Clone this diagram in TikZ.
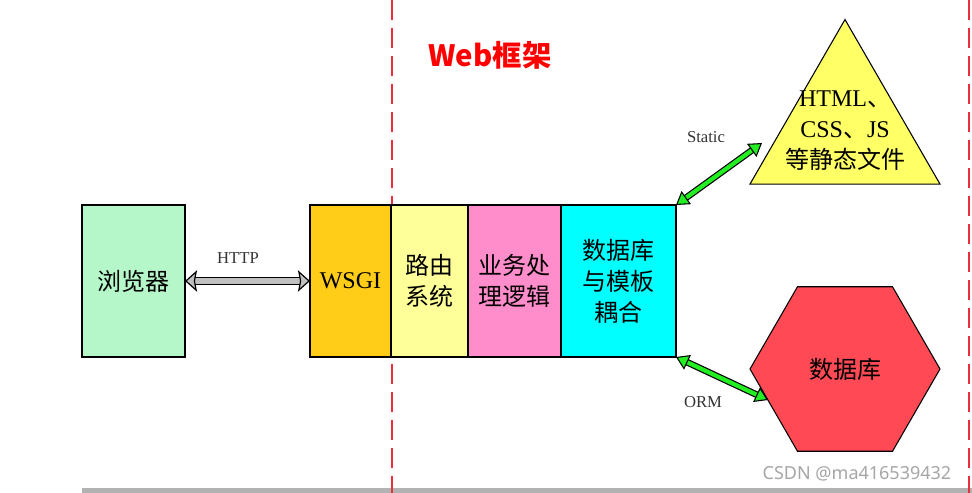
\documentclass[tikz,border=0pt]{standalone}
\usepackage{fontspec}
\setmainfont{Liberation Serif}
\newfontfamily\cjk{Noto Sans CJK SC}
\newfontfamily\wmfont{Noto Sans}
\usetikzlibrary{positioning, arrows.meta, shapes.geometric}

\definecolor{browsergreen}{HTML}{B5F7C9}
\definecolor{wsgiorange}{HTML}{FFCC18}
\definecolor{routeyellow}{HTML}{FFFF99}
\definecolor{logicpink}{HTML}{FF8DCB}
\definecolor{dbcyan}{HTML}{00FFFF}
\definecolor{staticyellow}{HTML}{FFFF66}
\definecolor{dbred}{HTML}{FF4A55}
\definecolor{linkgreen}{HTML}{22EE22}
\definecolor{httpgray}{HTML}{C0C0C0}
\definecolor{dashred}{HTML}{E8303A}

\begin{document}
\begin{tikzpicture}[
    x=0.75pt, y=-0.75pt,
    thick,
    block/.style={draw, rectangle, minimum height=114pt, inner sep=0pt, outer sep=0pt, align=center},
    cjk_font/.style={font=\cjk\fontsize{18}{23.25}\selectfont},
    latin_font/.style={font=\fontsize{18}{23.25}\selectfont},
    label_font/.style={font=\fontsize{12.5}{15}\selectfont, text=black!80},
    title_font/.style={font=\cjk\bfseries\fontsize{22}{26}\selectfont, text=red},
    watermark_font/.style={font=\wmfont\fontsize{13.5}{16}\selectfont, text=black!35},
    httptip/.tip={Stealth[length=9pt, width=16pt, inset=1.5pt, fill=httpgray, color=black, line width=0.9pt]},
    greentip/.tip={Triangle[length=9.5pt, width=12pt, fill=linkgreen, color=black, line width=0.8pt]},
    httplink/.style={draw=httpgray, line width=4.6pt, httptip-httptip,
        preaction={draw=black, line width=6.6pt, -, shorten <=6pt, shorten >=6pt}},
    greenlink/.style={draw=linkgreen, line width=3.2pt, greentip-greentip,
        preaction={draw=black, line width=5pt, -, shorten <=6pt, shorten >=6pt}},
    framedash/.style={draw=dashred, line width=1.1pt, dash pattern=on 15pt off 6pt}
]

    % Page and frame
    \fill[white] (0,0) rectangle (972,493);
    \useasboundingbox (0,0) rectangle (972,493);
    \fill[black!30] (82,488) rectangle (972,493);
    \draw[framedash] (392,0) -- (392,493);
    \draw[framedash] (969,0) -- (969,493);

    % Title of the framework area
    \node[title_font] (title) at (490,55) {Web框架};

    % Browser
    \node[block, cjk_font, fill=browsergreen, minimum width=77.25pt] (browser) at (133.5,281) {浏览器};

    % Framework layers
    \node[block, latin_font, fill=wsgiorange, minimum width=60.75pt] (wsgi) at (350.5,281) {WSGI};
    \node[block, cjk_font, fill=routeyellow, minimum width=57.75pt, right=0pt of wsgi] (route) {路由\\系统};
    \node[block, cjk_font, fill=logicpink, minimum width=69.75pt, right=0pt of route] (logic) {业务处\\理逻辑};
    \node[block, cjk_font, fill=dbcyan, minimum width=86.25pt, right=0pt of logic] (dbtpl) {数据库\\与模板\\耦合};

    % Static files
    \node[draw, fill=staticyellow, regular polygon, regular polygon sides=3, minimum size=164.5pt, inner sep=0pt] (static) at (845,129.2) {};
    \node[latin_font, align=center] (statictext) at (845,131) {HTML{\cjk 、}\\CSS{\cjk 、}JS\\{\cjk 等静态文件}};

    % Database
    \node[draw, fill=dbred, regular polygon, regular polygon sides=6, minimum size=142.5pt, inner sep=0pt, cjk_font] (db) at (845,369) {数据库};

    % Links
    \coordinate (staticend) at (762,143);
    \coordinate (ormend) at (768,400);
    \draw[httplink] (browser.east) -- (wsgi.west);
    \draw[greenlink] (dbtpl.north east) -- (staticend);
    \draw[greenlink] (dbtpl.south east) -- (ormend);

    % Link labels
    \node[label_font] (httplabel) at (238,258) {HTTP};
    \node[label_font] (staticlabel) at (706,137) {Static};
    \node[label_font] (ormlabel) at (703,402) {ORM};

    % Watermark
    \node[watermark_font] (csdn) at (857,474) {CSDN @ma416539432};

\end{tikzpicture}
\end{document}
